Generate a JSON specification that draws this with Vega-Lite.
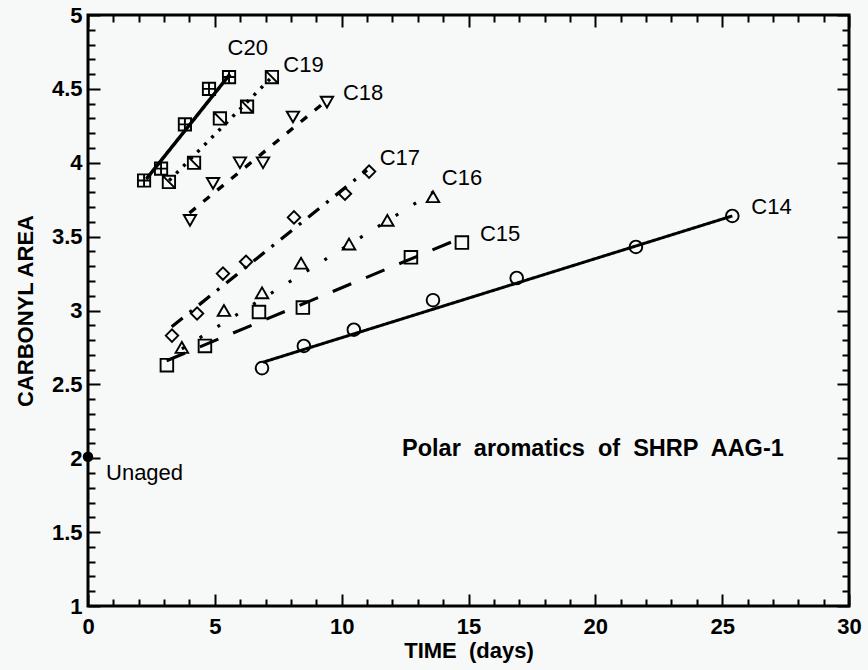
{
  "$schema": "https://vega.github.io/schema/vega-lite/v6.json",
  "width": 761,
  "height": 591,
  "autosize": "none",
  "padding": {"left": 88, "top": 15, "right": 19, "bottom": 64},
  "background": "#f7f8f8",
  "config": {"view": {"stroke": "black", "strokeWidth": 3}, "font": "Liberation Sans"},
  "datasets": {
    "pts": [
      {"series": "C20", "time": 2.21, "area": 3.88},
      {"series": "C20", "time": 2.88, "area": 3.96},
      {"series": "C20", "time": 3.82, "area": 4.26},
      {"series": "C20", "time": 4.77, "area": 4.5},
      {"series": "C20", "time": 5.56, "area": 4.58},
      {"series": "C19", "time": 3.19, "area": 3.87},
      {"series": "C19", "time": 4.18, "area": 4.0},
      {"series": "C19", "time": 5.2, "area": 4.3},
      {"series": "C19", "time": 6.27, "area": 4.38},
      {"series": "C19", "time": 7.25, "area": 4.58},
      {"series": "C18", "time": 4.02, "area": 3.61},
      {"series": "C18", "time": 4.93, "area": 3.86},
      {"series": "C18", "time": 5.99, "area": 4.0},
      {"series": "C18", "time": 6.9, "area": 4.0},
      {"series": "C18", "time": 8.08, "area": 4.31},
      {"series": "C18", "time": 9.42, "area": 4.41},
      {"series": "C17", "time": 3.31, "area": 2.83},
      {"series": "C17", "time": 4.3, "area": 2.98},
      {"series": "C17", "time": 5.32, "area": 3.25},
      {"series": "C17", "time": 6.23, "area": 3.33},
      {"series": "C17", "time": 8.12, "area": 3.63},
      {"series": "C17", "time": 10.13, "area": 3.79},
      {"series": "C17", "time": 11.08, "area": 3.94},
      {"series": "C16", "time": 3.7, "area": 2.75},
      {"series": "C16", "time": 5.36, "area": 3.0},
      {"series": "C16", "time": 6.86, "area": 3.12},
      {"series": "C16", "time": 8.4, "area": 3.32},
      {"series": "C16", "time": 10.29, "area": 3.45},
      {"series": "C16", "time": 11.8, "area": 3.61},
      {"series": "C16", "time": 13.6, "area": 3.77},
      {"series": "C15", "time": 3.11, "area": 2.63},
      {"series": "C15", "time": 4.61, "area": 2.76},
      {"series": "C15", "time": 6.74, "area": 2.99},
      {"series": "C15", "time": 8.47, "area": 3.02},
      {"series": "C15", "time": 12.73, "area": 3.36},
      {"series": "C15", "time": 14.74, "area": 3.46},
      {"series": "C14", "time": 6.86, "area": 2.61},
      {"series": "C14", "time": 8.51, "area": 2.76},
      {"series": "C14", "time": 10.48, "area": 2.87},
      {"series": "C14", "time": 13.6, "area": 3.07},
      {"series": "C14", "time": 16.9, "area": 3.22},
      {"series": "C14", "time": 21.6, "area": 3.43},
      {"series": "C14", "time": 25.4, "area": 3.64}
    ],
    "fits": [
      {"series": "C20", "time": 2.3, "area": 3.89},
      {"series": "C20", "time": 5.6, "area": 4.6},
      {"series": "C19", "time": 3.2, "area": 3.88},
      {"series": "C19", "time": 7.25, "area": 4.58},
      {"series": "C18", "time": 4.0, "area": 3.66},
      {"series": "C18", "time": 9.4, "area": 4.42},
      {"series": "C17", "time": 3.3, "area": 2.89},
      {"series": "C17", "time": 11.0, "area": 3.95},
      {"series": "C16", "time": 3.7, "area": 2.74},
      {"series": "C16", "time": 13.6, "area": 3.8},
      {"series": "C15", "time": 3.1, "area": 2.66},
      {"series": "C15", "time": 14.7, "area": 3.49},
      {"series": "C14", "time": 6.9, "area": 2.65},
      {"series": "C14", "time": 25.4, "area": 3.64}
    ],
    "labels": [
      {"text": "C20", "time": 5.5, "area": 4.78},
      {"text": "C19", "time": 7.7, "area": 4.66},
      {"text": "C18", "time": 10.05, "area": 4.47},
      {"text": "C17", "time": 11.5, "area": 4.03},
      {"text": "C16", "time": 13.95, "area": 3.9},
      {"text": "C15", "time": 15.45, "area": 3.52},
      {"text": "C14", "time": 26.15, "area": 3.7},
      {"text": "Unaged", "time": 0.71, "area": 1.9}
    ],
    "notes": [
      {"text": "Polar\u00a0 aromatics\u00a0 of\u00a0 SHRP\u00a0 AAG-1", "time": 12.38, "area": 2.06}
    ],
    "unaged": [{"time": 0, "area": 2.01}]
  },
  "layer": [
    {
      "data": {"name": "fits"},
      "mark": {"type": "line", "color": "black", "strokeCap": "butt"},
      "encoding": {
        "x": {
          "field": "time", "type": "quantitative",
          "scale": {"domain": [0, 30], "nice": false, "zero": false},
          "axis": {
            "orient": "bottom",
            "values": [0,1,2,3,4,5,6,7,8,9,10,11,12,13,14,15,16,17,18,19,20,21,22,23,24,25,26,27,28,29,30],
            "domain": false, "grid": false,
            "tickColor": "black", "tickWidth": 2,
            "tickSize": {"condition": {"test": "datum.value % 5 === 0", "value": -12}, "value": -7},
            "labelExpr": "datum.value % 5 === 0 ? datum.label : ''",
            "labelOverlap": false, "labelFont": "Liberation Sans", "labelFontSize": 22, "labelFontWeight": "bold", "labelColor": "black",
            "labelPadding": 22, "labelFlush": false,
            "title": "TIME\u00a0 (days)", "titleFont": "Liberation Sans", "titleFontSize": 22, "titleFontWeight": "bold", "titleColor": "black", "titlePadding": -2
          }
        },
        "y": {
          "field": "area", "type": "quantitative",
          "scale": {"domain": [1, 5], "nice": false, "zero": false},
          "axis": {
            "orient": "left",
            "values": [1,1.1,1.2,1.3,1.4,1.5,1.6,1.7,1.8,1.9,2,2.1,2.2,2.3,2.4,2.5,2.6,2.7,2.8,2.9,3,3.1,3.2,3.3,3.4,3.5,3.6,3.7,3.8,3.9,4,4.1,4.2,4.3,4.4,4.5,4.6,4.7,4.8,4.9,5],
            "domain": false, "grid": false,
            "tickColor": "black", "tickWidth": 2,
            "tickSize": {"condition": {"test": "abs(datum.value*2 - round(datum.value*2)) < 0.001", "value": -12}, "value": -7},
            "labelExpr": "abs(datum.value*2 - round(datum.value*2)) < 0.001 ? format(datum.value, '~g') : ''",
            "labelOverlap": false, "labelFont": "Liberation Sans", "labelFontSize": 22, "labelFontWeight": "bold", "labelColor": "black",
            "labelPadding": 18, "labelFlush": false,
            "title": "CARBONYL AREA", "titleFont": "Liberation Sans", "titleFontSize": 22, "titleFontWeight": "bold", "titleColor": "black", "titlePadding": 14
          }
        },
        "detail": {"field": "series"},
        "strokeDash": {
          "field": "series", "type": "nominal", "legend": null,
          "scale": {"domain": ["C20","C19","C18","C17","C16","C15","C14"],
                    "range": [[1,0],[3,7],[8,10],[14,9,3,9],[3,18],[20,16],[1,0]]}
        },
        "strokeWidth": {
          "field": "series", "type": "nominal", "legend": null,
          "scale": {"domain": ["C20","C19","C18","C17","C16","C15","C14"],
                    "range": [3.5, 3, 2.2, 2.2, 3, 2.2, 2]}
        }
      }
    },
    {
      "data": {"name": "pts"},
      "mark": {"type": "point", "filled": false, "color": "black", "strokeWidth": 1.9, "opacity": 1},
      "encoding": {
        "x": {
          "field": "time", "type": "quantitative",
          "axis": {
            "orient": "top",
            "values": [0,1,2,3,4,5,6,7,8,9,10,11,12,13,14,15,16,17,18,19,20,21,22,23,24,25,26,27,28,29,30],
            "domain": false, "grid": false, "labels": false, "title": null,
            "tickColor": "black", "tickWidth": 2,
            "tickSize": {"condition": {"test": "datum.value % 5 === 0", "value": -12}, "value": -7}
          }
        },
        "y": {
          "field": "area", "type": "quantitative",
          "axis": {
            "orient": "right",
            "values": [1,1.1,1.2,1.3,1.4,1.5,1.6,1.7,1.8,1.9,2,2.1,2.2,2.3,2.4,2.5,2.6,2.7,2.8,2.9,3,3.1,3.2,3.3,3.4,3.5,3.6,3.7,3.8,3.9,4,4.1,4.2,4.3,4.4,4.5,4.6,4.7,4.8,4.9,5],
            "domain": false, "grid": false, "labels": false, "title": null,
            "tickColor": "black", "tickWidth": 2,
            "tickSize": {"condition": {"test": "abs(datum.value*2 - round(datum.value*2)) < 0.001", "value": -12}, "value": -7}
          }
        },
        "shape": {
          "field": "series", "type": "nominal", "legend": null,
          "scale": {"domain": ["C20","C19","C18","C17","C16","C15","C14"],
                    "range": ["M-1,-1H1V1H-1Z M0,-1V1 M-1,0H1", "M-1,-1H1V1H-1Z M-1,-1L1,1", "triangle-down", "diamond", "triangle-up", "square", "circle"]}
        },
        "size": {
          "field": "series", "type": "nominal", "legend": null,
          "scale": {"domain": ["C20","C19","C18","C17","C16","C15","C14"],
                    "range": [150, 160, 140, 130, 140, 160, 110]}
        }
      }
    },
    {
      "data": {"name": "labels"},
      "mark": {"type": "text", "align": "left", "baseline": "middle", "fontSize": 22, "color": "black", "font": "Liberation Sans"},
      "encoding": {
        "x": {"field": "time", "type": "quantitative", "axis": null},
        "y": {"field": "area", "type": "quantitative", "axis": null},
        "text": {"field": "text"}
      }
    },
    {
      "data": {"name": "notes"},
      "mark": {"type": "text", "align": "left", "baseline": "middle", "fontSize": 23.5, "fontWeight": "bold", "color": "black", "font": "Liberation Sans"},
      "encoding": {
        "x": {"field": "time", "type": "quantitative", "axis": null},
        "y": {"field": "area", "type": "quantitative", "axis": null},
        "text": {"field": "text"}
      }
    },
    {
      "data": {"name": "unaged"},
      "mark": {"type": "point", "filled": true, "color": "black", "size": 110, "opacity": 1, "shape": "circle"},
      "encoding": {
        "x": {"field": "time", "type": "quantitative", "axis": null},
        "y": {"field": "area", "type": "quantitative", "axis": null}
      }
    }
  ],
  "resolve": {"axis": {"x": "independent", "y": "independent"}}
}
